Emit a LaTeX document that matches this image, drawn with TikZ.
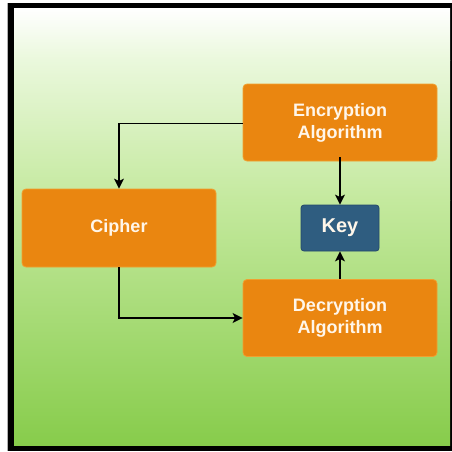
\documentclass[tikz,border=0pt]{standalone}
\usepackage{fontspec}
\setmainfont{Liberation Sans}
\usetikzlibrary{arrows.meta}
\definecolor{boxorange}{HTML}{EA8610}
\definecolor{boxedge}{HTML}{F0A030}
\definecolor{keyblue}{HTML}{2F5D80}
\definecolor{keyedge}{HTML}{24496A}
\definecolor{txtwhite}{HTML}{FFF6EA}
\definecolor{gA}{HTML}{FFFFFF}
\definecolor{gB}{HTML}{EAF8DC}
\definecolor{gC}{HTML}{C4E99E}
\definecolor{gD}{HTML}{87CC4B}
\tikzset{
  algbox/.style={draw=boxedge, line width=0.8pt, fill=boxorange, rounded corners=4pt,
    text=txtwhite, font=\bfseries\fontsize{18}{22}\selectfont, align=center, inner sep=0pt},
  keybox/.style={draw=keyedge, line width=0.8pt, fill=keyblue, rounded corners=3pt,
    text=txtwhite, font=\bfseries\fontsize{20}{24}\selectfont, inner sep=0pt},
  conn/.style={draw=black, line width=1.3pt, -{Stealth[length=10pt,width=10pt,inset=2.5pt]}}
}
\begin{document}
\begin{tikzpicture}[x=1pt,y=-1pt]
\useasboundingbox (0,0) rectangle (452,451);
% frame
\fill[black] (8,3) rectangle (452,451);
\fill[gray!60] (7,3) rectangle (8,451);
% gradient background
\shade[top color=gA, bottom color=gB] (14,8) rectangle (450,60);
\shade[top color=gB, bottom color=gC] (14,60) rectangle (450,200);
\shade[top color=gC, bottom color=gD] (14,200) rectangle (450,445.5);
% boxes
\node[algbox, minimum width=194pt, minimum height=77pt] (enc) at (340,122.5) {Encryption\\Algorithm};
\node[algbox, minimum width=194pt, minimum height=77pt] (dec) at (340,318) {Decryption\\Algorithm};
\node[algbox, minimum width=194pt, minimum height=78pt] (cip) at (119,228) {Cipher};
\node[keybox, minimum width=78pt, minimum height=46pt] (key) at (340,228) {Key};
% connectors
\coordinate (c1) at (119,123.5);
\coordinate (c2) at (119,318);
\draw[conn] (enc.west |- c1) -- (c1) -- (cip.north);
\draw[conn] (cip.south) -- (c2) -- (dec.west);
\draw[conn] ([yshift=4pt]enc.south) -- (key.north);
\draw[conn] (dec.north) -- (key.south);
\end{tikzpicture}
\end{document}
